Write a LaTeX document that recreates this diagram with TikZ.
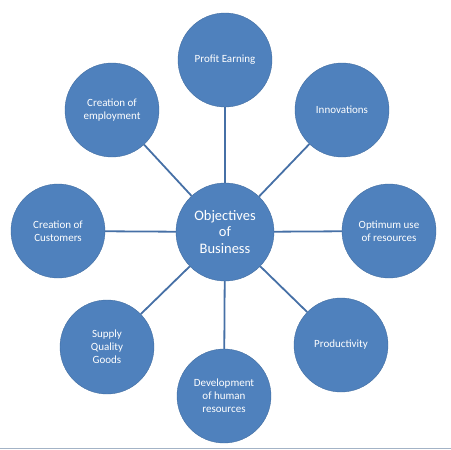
\documentclass[tikz,border=0pt]{standalone}
\usepackage{fontspec}
\setmainfont{Carlito}
\definecolor{bfill}{HTML}{4F81BD}
\definecolor{bline}{HTML}{4670A6}
\definecolor{bedge}{HTML}{A3B3C6}
\begin{document}
\begin{tikzpicture}[x=1pt,y=-1pt,
  outer/.style={circle,fill=bfill,draw=bfill!85!black,line width=0.4pt,minimum size=94pt,inner sep=0pt,align=center,text=white,font=\fontsize{11}{13}\selectfont},
  hub/.style={circle,fill=bfill,draw=bfill!85!black,line width=0.4pt,minimum size=98pt,inner sep=0pt,align=center,text=white,font=\fontsize{14.5}{16.5}\selectfont},
  spoke/.style={draw=bline,line width=1.8pt}]
\useasboundingbox (0,0) rectangle (451,450);
\node[hub] (c) at (225,232) {Objectives\\of\\Business};
\node[outer] (pe) at (225,60) {Profit Earning};
\node[outer] (in) at (342,110) {Innovations};
\node[outer] (op) at (389,231) {Optimum use\\of resources};
\node[outer] (pr) at (341,345) {Productivity};
\node[outer] (de) at (224,396) {Development\\of human\\resources};
\node[outer] (su) at (107,347) {Supply\\Quality\\Goods};
\node[outer] (cu) at (58,231) {Creation of\\Customers};
\node[outer] (em) at (112,110) {Creation of\\employment};
\foreach \n in {pe,in,op,pr,de,su,cu,em}{\draw[spoke] (c) -- (\n);}
\coordinate (bl) at (0,448.5);
\coordinate (br) at (451,448.5);
\draw[bedge,line width=1pt] (bl) -- (br);
\end{tikzpicture}
\end{document}
